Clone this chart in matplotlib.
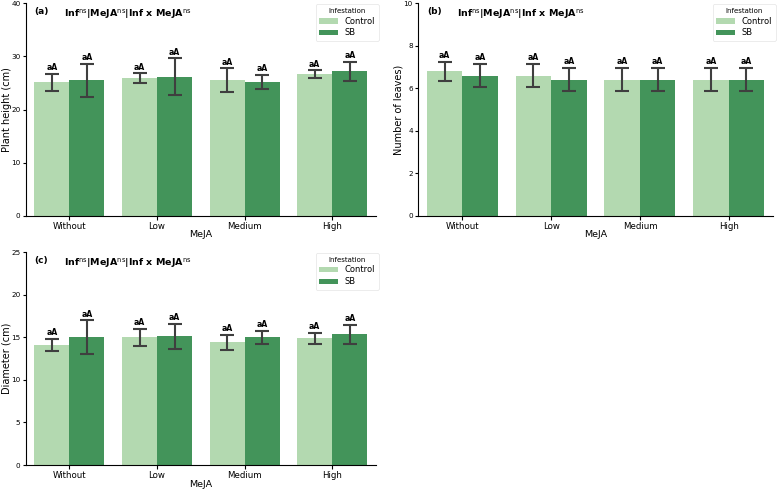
import matplotlib
matplotlib.use("Agg")
import matplotlib.pyplot as plt
import numpy as np

categories = ["Without", "Low", "Medium", "High"]
groups = ["Control", "SB"]

height_ctrl = [25.1, 25.9, 25.5, 26.7]
height_sb = [25.5, 26.2, 25.2, 27.2]
height_ctrl_err = [1.65, 0.9, 2.25, 0.7]
height_sb_err = [3.15, 3.45, 1.4, 1.8]

leaves_ctrl = [6.8, 6.6, 6.4, 6.4]
leaves_sb = [6.6, 6.4, 6.4, 6.4]
leaves_ctrl_err = [0.45, 0.55, 0.55, 0.55]
leaves_sb_err = [0.55, 0.55, 0.55, 0.55]

diam_ctrl = [14.12, 15.02, 14.44, 14.9]
diam_sb = [15.02, 15.14, 15.02, 15.38]
diam_ctrl_err = [0.73, 1.02, 0.9, 0.63]
diam_sb_err = [1.97, 1.47, 0.75, 1.12]

letters = "aA"
ctrl_color = "#b3d9b0"
sb_color = "#43945a"
err_color = "#3f3f3f"

fig = plt.figure(figsize=(7.77, 4.9), dpi=100)

panels = [
    ("(a)", [0.033, 0.560, 0.451, 0.433], height_ctrl, height_sb, height_ctrl_err, height_sb_err,
     "Plant height (cm)", (0, 40), np.arange(0, 41, 10), 0.3),
    ("(b)", [0.538, 0.560, 0.457, 0.433], leaves_ctrl, leaves_sb, leaves_ctrl_err, leaves_sb_err,
     "Number of leaves)", (0, 10), np.arange(0, 11, 2), 0.08),
    ("(c)", [0.033, 0.051, 0.451, 0.434], diam_ctrl, diam_sb, diam_ctrl_err, diam_sb_err,
     "Diameter (cm)", (0, 25), np.arange(0, 26, 5), 0.2),
]

x = np.arange(len(categories))
w = 0.4
for tag, pos, c, s, ce, se, ylabel, ylim, yticks, off in panels:
    ax = fig.add_axes(pos)
    ax.bar(x - w / 2, c, width=w, color=ctrl_color, label=groups[0], zorder=2)
    ax.bar(x + w / 2, s, width=w, color=sb_color, label=groups[1], zorder=2)
    ax.errorbar(x - w / 2, c, yerr=ce, fmt="none", ecolor=err_color, elinewidth=1.5,
                capsize=5, capthick=1.5, zorder=3)
    ax.errorbar(x + w / 2, s, yerr=se, fmt="none", ecolor=err_color, elinewidth=1.5,
                capsize=5, capthick=1.5, zorder=3)
    for xi, v, e in zip(x - w / 2, c, ce):
        ax.text(xi, v + e + off, letters, ha="center", va="bottom", fontsize=5.6, fontweight="bold")
    for xi, v, e in zip(x + w / 2, s, se):
        ax.text(xi, v + e + off, letters, ha="center", va="bottom", fontsize=5.6, fontweight="bold")
    ax.set_xlim(-0.5, 3.5)
    ax.set_ylim(*ylim)
    ax.set_yticks(yticks)
    ax.set_xticks(x)
    ax.set_xticklabels(categories)
    ax.tick_params(axis="x", labelsize=6.2, length=3, pad=1.5)
    ax.tick_params(axis="y", labelsize=5.2, length=2.5, pad=1.2)
    ax.set_ylabel(ylabel, fontsize=7)
    ax.yaxis.set_label_coords(-0.04, 0.5)
    ax.set_xlabel("MeJA", fontsize=6.8)
    ax.xaxis.set_label_coords(0.5, -0.07)
    for sp in ["top", "right"]:
        ax.spines[sp].set_visible(False)
    ax.text(0.025, 0.985, tag, transform=ax.transAxes, fontsize=6.5, fontweight="bold",
            ha="left", va="top")
    ax.text(0.11, 0.985, r"Inf$^{\mathrm{ns}}$|MeJA$^{\mathrm{ns}}$|Inf x MeJA$^{\mathrm{ns}}$",
            transform=ax.transAxes, fontsize=6.8, fontweight="bold", ha="left", va="top")
    leg = ax.legend(title="Infestation", loc="upper right", fontsize=6, title_fontsize=5,
                    frameon=True, borderpad=0.4, handlelength=2.3, labelspacing=0.35,
                    borderaxespad=0.1, bbox_to_anchor=(1.01, 1.0))
    leg.get_frame().set_linewidth(0.5)
    leg.get_frame().set_edgecolor("#dddddd")

fig.savefig("out.png", dpi=100)
